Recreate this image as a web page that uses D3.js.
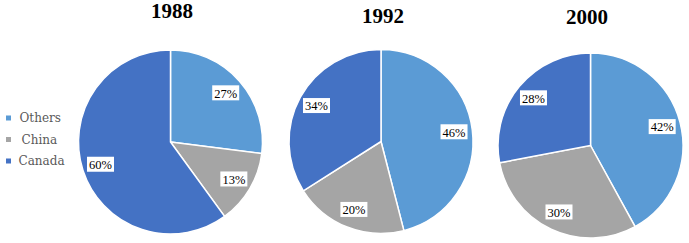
<!DOCTYPE html>
<html>
<head>
<meta charset="utf-8">
<script src="https://cdn.jsdelivr.net/npm/d3@7"></script>
<style>
  html, body { margin: 0; padding: 0; background: #fff; }
  svg { display: block; }
</style>
</head>
<body>
<div id="chart"></div>
<script>
// data
var categories = ["Others", "China", "Canada"];
var years = ["1988", "1992", "2000"];
var share1988 = [27, 13, 60];
var share1992 = [46, 20, 34];
var share2000 = [42, 30, 28];
var shares = [share1988, share1992, share2000];

var colors = d3.scaleOrdinal()
  .domain(categories)
  .range(["#5b9bd5", "#a5a5a5", "#4472c4"]);

var width = 689, height = 243;
var svg = d3.select("#chart").append("svg")
  .attr("width", width).attr("height", height);

// layout of each pie (centre, radius, title spot)
var pies = [
  {cx: 170.5, cy: 142, r: 92, tx: 172, ty: 18},
  {cx: 381, cy: 141.5, r: 92, tx: 383, ty: 23},
  {cx: 590.5, cy: 145.5, r: 92.5, tx: 587, ty: 24}
];

var pie = d3.pie().sort(null).value(function(d){ return d.v; });

years.forEach(function(yr, i){
  var p = pies[i];
  var rows = categories.map(function(c, j){ return {cat: c, v: shares[i][j]}; });
  var arc = d3.arc().innerRadius(0).outerRadius(p.r);
  var labelArc = d3.arc().innerRadius(p.r * 0.8).outerRadius(p.r * 0.8);

  var g = svg.append("g").attr("transform", "translate(" + p.cx + "," + p.cy + ")");

  g.selectAll("path.slice")
    .data(pie(rows)).enter().append("path")
    .attr("class", "slice")
    .attr("d", arc)
    .attr("fill", function(d){ return colors(d.data.cat); })
    .attr("stroke", "#fff")
    .attr("stroke-width", 1.5);

  var lab = g.selectAll("g.lab")
    .data(pie(rows)).enter().append("g")
    .attr("class", "lab")
    .attr("transform", function(d){ return "translate(" + labelArc.centroid(d) + ")"; });

  lab.append("rect")
    .attr("x", -13.5).attr("y", -8)
    .attr("width", 27).attr("height", 15)
    .attr("fill", "#fff");

  lab.append("text")
    .attr("text-anchor", "middle")
    .attr("y", 4.3)
    .attr("font-family", "'Liberation Serif', 'Times New Roman', serif")
    .attr("font-size", 12.5)
    .attr("fill", "#000")
    .text(function(d){ return d.data.v + "%"; });

  svg.append("text")
    .attr("x", p.tx).attr("y", p.ty)
    .attr("text-anchor", "middle")
    .attr("font-family", "'Liberation Serif', 'Times New Roman', serif")
    .attr("font-weight", "bold")
    .attr("font-size", 21)
    .attr("fill", "#000")
    .text(yr);
});

// legend
var legendY = d3.scalePoint().domain(categories).range([118, 161]);
var leg = svg.selectAll("g.legend")
  .data(categories).enter().append("g")
  .attr("class", "legend")
  .attr("transform", function(d){ return "translate(0," + legendY(d) + ")"; });

leg.append("rect")
  .attr("x", 6).attr("y", -2.5)
  .attr("width", 5).attr("height", 5)
  .attr("fill", function(d){ return colors(d); });

leg.append("text")
  .attr("x", function(d){ return d === "China" ? 21.5 : (d === "Canada" ? 18.5 : 19.5); })
  .attr("y", 4)
  .attr("font-family", "'DejaVu Serif', serif")
  .attr("font-size", 12)
  .attr("fill", "#595959")
  .text(function(d){ return d; });
</script>
</body>
</html>
